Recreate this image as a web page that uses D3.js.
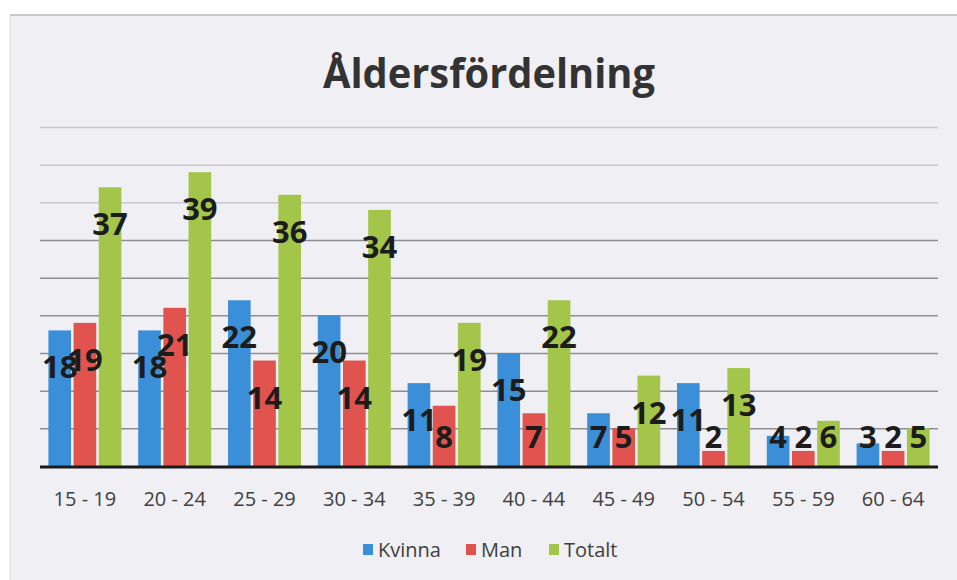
<!DOCTYPE html>
<html>
<head>
<meta charset="utf-8">
<script src="https://cdn.jsdelivr.net/npm/d3@7"></script>
<style>
  body { margin: 0; background: #fff; }
  text { font-family: "Open Sans", "Noto Sans", sans-serif; }
</style>
</head>
<body>
<div id="chart"></div>
<script>
var categories = ["15 - 19", "20 - 24", "25 - 29", "30 - 34", "35 - 39", "40 - 44", "45 - 49", "50 - 54", "55 - 59", "60 - 64"];
var seriesNames = ["Kvinna", "Man", "Totalt"];
var kvinna = [18, 18, 22, 20, 11, 15, 7, 11, 4, 3];
var man = [19, 21, 14, 14, 8, 7, 5, 2, 2, 2];
var totalt = [37, 39, 36, 34, 19, 22, 12, 13, 6, 5];
var yTicks = [5, 10, 15, 20, 25, 30, 35, 40, 45];
var colors = ["#3b8fd9", "#e0534f", "#a3c64a"];

var width = 957, height = 580;
var svg = d3.select("#chart").append("svg").attr("width", width).attr("height", height);

// panel background
svg.append("rect").attr("x", 10).attr("y", 15).attr("width", width - 10).attr("height", height - 15)
  .attr("fill", "#efeff4");
svg.append("line").attr("x1", 10).attr("x2", width).attr("y1", 15).attr("y2", 15)
  .attr("stroke", "#b9b9be").attr("stroke-width", 1.5);
svg.append("line").attr("x1", 10).attr("x2", 10).attr("y1", 15).attr("y2", height)
  .attr("stroke", "#e2e2e8").attr("stroke-width", 1.5);

svg.append("text").attr("x", 489).attr("y", 88).attr("text-anchor", "middle")
  .attr("font-size", 41).attr("font-weight", 700).attr("fill", "#333")
  .attr("textLength", 332).attr("lengthAdjust", "spacingAndGlyphs")
  .text("Åldersfördelning");

var x0 = d3.scaleBand().domain(categories).range([40, 938]).paddingInner(0.187).paddingOuter(0.0935);
var x1 = d3.scaleBand().domain(seriesNames).range([0, x0.bandwidth()]).paddingInner(0.1);
var y = d3.scaleLinear().domain([0, 45]).range([466, 127]);

// gridlines
svg.append("g").attr("transform", "translate(40,0)")
  .call(d3.axisLeft(y).tickValues(yTicks).tickSize(-898).tickFormat(""))
  .call(function(g) {
    g.select(".domain").remove();
    g.selectAll(".tick line").attr("stroke", function(d) { return d >= 35 ? "#c8c8cc" : "#8e8e92"; })
      .attr("stroke-width", 1.5);
  });

var rows = categories.map(function(c, i) {
  return { cat: c, vals: [kvinna[i], man[i], totalt[i]] };
});

var groups = svg.selectAll("g.grp").data(rows).enter().append("g").attr("class", "grp")
  .attr("transform", function(d) { return "translate(" + x0(d.cat) + ",0)"; });

groups.selectAll("rect").data(function(d) {
  return d.vals.map(function(v, j) { return { name: seriesNames[j], v: v, j: j }; });
}).enter().append("rect")
  .attr("x", function(d) { return x1(d.name); })
  .attr("y", function(d) { return y(d.v); })
  .attr("width", x1.bandwidth())
  .attr("height", function(d) { return y(0) - y(d.v); })
  .attr("fill", function(d) { return colors[d.j]; });

// baseline
svg.append("line").attr("x1", 40).attr("x2", 938).attr("y1", y(0) + 1).attr("y2", y(0) + 1)
  .attr("stroke", "#1a1a1a").attr("stroke-width", 3);

// data labels
groups.selectAll("text.lbl").data(function(d) {
  return d.vals.map(function(v, j) { return { name: seriesNames[j], v: v, j: j }; });
}).enter().append("text").attr("class", "lbl")
  .attr("x", function(d) { return x1(d.name) + x1.bandwidth() / 2; })
  .attr("y", function(d) { return Math.min(y(d.v) + 37, y(0) - 29) + 11; })
  .attr("text-anchor", "middle").attr("font-size", 31).attr("font-weight", 700)
  .attr("fill", "#1c1c1c")
  .text(function(d) { return d.v; });

// category labels
svg.append("g").attr("transform", "translate(0," + y(0) + ")")
  .call(d3.axisBottom(x0).tickSize(0).tickPadding(0))
  .call(function(g) {
    g.select(".domain").remove();
    g.selectAll("text").attr("y", 40).attr("dy", null).attr("font-size", 20)
      .attr("fill", "#404040").style("font-family", "'Open Sans', sans-serif");
  });

// legend
var legendX = [363, 466, 549];
var leg = svg.selectAll("g.leg").data(seriesNames).enter().append("g").attr("class", "leg")
  .attr("transform", function(d, i) { return "translate(" + legendX[i] + ",544)"; });
leg.append("rect").attr("width", 10).attr("height", 11).attr("fill", function(d, i) { return colors[i]; });
leg.append("text").attr("x", 15).attr("y", 13).attr("font-size", 20).attr("fill", "#404040")
  .text(function(d) { return d; });
</script>
</body>
</html>
